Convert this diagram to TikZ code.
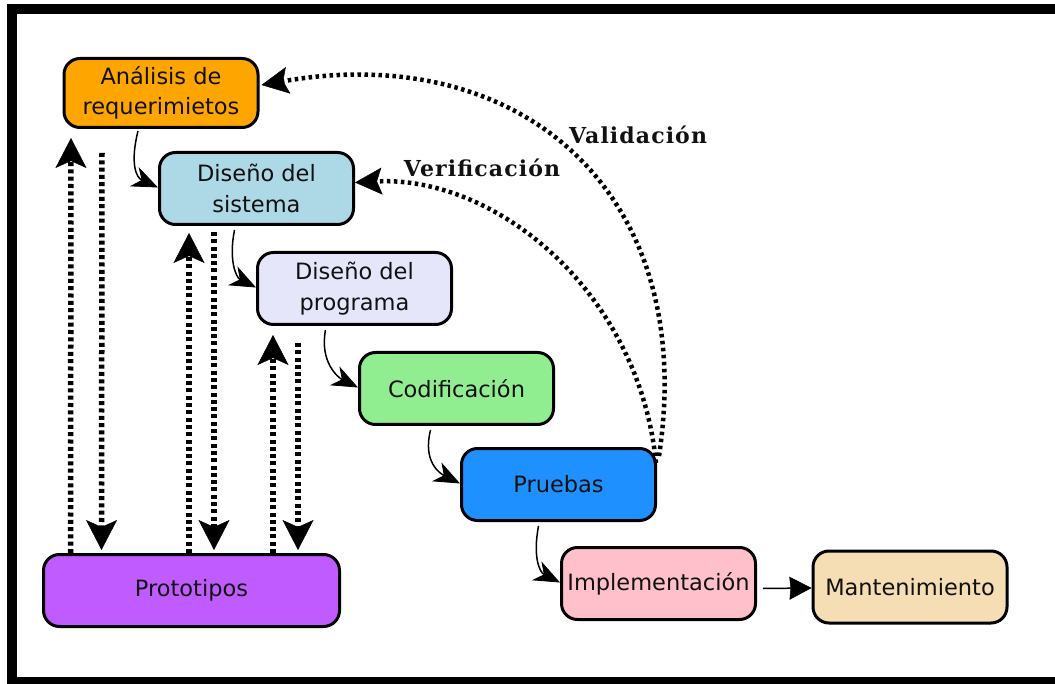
\documentclass[tikz,border=0pt]{standalone}
\usepackage{fontspec}
\setmainfont{DejaVu Sans}
\newfontfamily\notefont[LetterSpace=5]{DejaVu Serif}
\usetikzlibrary{arrows.meta}

\definecolor{cAna}{HTML}{FFA500}
\definecolor{cSis}{HTML}{ADD8E6}
\definecolor{cProg}{HTML}{E6E6FA}
\definecolor{cCod}{HTML}{90EE90}
\definecolor{cPru}{HTML}{1E90FF}
\definecolor{cImp}{HTML}{FFC0CB}
\definecolor{cMan}{HTML}{F5DEB3}
\definecolor{cPro}{HTML}{BF5BFF}
\definecolor{ink}{HTML}{111111}

\begin{document}
\begin{tikzpicture}[x=1pt,y=-1pt,
  phase/.style={draw=black, line width=3pt, rounded corners=16pt,
    minimum width=194pt, minimum height=72pt, inner sep=2pt,
    align=center, text=ink, font=\fontsize{22.5}{30.5}\selectfont},
  flow/.style={line width=1.5pt, -{Stealth[length=26pt,width=21pt,inset=8pt,line width=0.8pt]}},
  proto/.style={line width=5.5pt, dash pattern=on 4pt off 3.3pt,
    -{Stealth[length=30pt,width=31pt,inset=7pt,line width=0.5pt]}},
  loopback/.style={line width=4.5pt, dash pattern=on 3.5pt off 3.5pt,
    -{Stealth[length=27pt,width=27pt,inset=5pt,line width=0.5pt]}},
  note/.style={font=\notefont\bfseries\fontsize{22}{26}\selectfont, text=ink}
]
\useasboundingbox (0,0) rectangle (1055,684);
\clip (0,0) rectangle (1055,684);

% outer frame
\draw[line width=10pt] (12,9) rectangle (1075,682);

% phases of the process
\node[phase, fill=cAna, minimum height=69pt] (ana) at (161,93) {Análisis de\\requerimietos};
\node[phase, fill=cSis]  (sis)  at (256.5,188.5) {Diseño del\\sistema};
\node[phase, fill=cProg] (prog) at (354.5,288.5) {Diseño del\\programa};
\node[phase, fill=cCod]  (cod)  at (456.5,388.5) {Codificación};
\node[phase, fill=cPru]  (pru)  at (558.5,484.5) {Pruebas};
\node[phase, fill=cImp]  (imp)  at (658.5,583.5) {Implementación};
\node[phase, fill=cMan]  (man)  at (910,587)     {Mantenimiento};
\node[phase, fill=cPro, minimum width=296pt] (pro) at (191.5,590.5) {Prototipos};

% cascade between phases
\draw[flow] ([xshift=-23pt,yshift=-2pt]ana.south) .. controls +(-8,32) and +(-22,-10) .. ([yshift=1pt]sis.west);
\draw[flow] ([xshift=-22pt,yshift=-4pt]sis.south) .. controls +(-6,30) and +(-20,-10) .. ([yshift=1pt]prog.west);
\draw[flow] ([xshift=-29pt,yshift=-4pt]prog.south) .. controls +(-6,32) and +(-20,-10) .. ([yshift=1pt]cod.west);
\draw[flow] ([xshift=-26pt,yshift=-4pt]cod.south) .. controls +(-8,32) and +(-20,-10) .. ([yshift=1pt]pru.west);
\draw[flow] ([xshift=-20pt,yshift=-4pt]pru.south) .. controls +(-6,32) and +(-20,-10) .. ([yshift=1pt]imp.west);
\draw[line width=1.5pt, -{Stealth[length=22pt,width=23pt,inset=1pt,line width=0.5pt]}]
  ([xshift=6pt,yshift=-5pt]imp.east) -- ([yshift=-1pt]man.west);

% prototype feedback loops
\draw[proto] ([xshift=-121pt]pro.north) -- ([xshift=-90pt,yshift=-9pt]ana.south);
\draw[proto] ([xshift=-59pt,yshift=-24pt]ana.south) -- ([xshift=-90pt,yshift=3pt]pro.north);
\draw[proto] ([xshift=-2.5pt]pro.north) -- ([xshift=-67.5pt,yshift=-7pt]sis.south);
\draw[proto] ([xshift=-42.5pt,yshift=-6pt]sis.south) -- ([xshift=22.5pt,yshift=3pt]pro.north);
\draw[proto] ([xshift=81.5pt]pro.north) -- ([xshift=-81.5pt,yshift=-9pt]prog.south);
\draw[proto] ([xshift=-56.5pt,yshift=-17pt]prog.south) -- ([xshift=106.5pt,yshift=3pt]pro.north);

% verification and validation
\coordinate (vstart) at ([xshift=-1pt,yshift=-16pt]pru.north east);
\coordinate (wstart) at ([xshift=2pt,yshift=-9pt]pru.north east);
\draw[loopback] (vstart) .. controls +(-17,-172) and +(140,-7) .. ([yshift=6pt]sis.east);
\draw[loopback] (wstart) .. controls +(40,-265) and +(258,-45) .. ([xshift=2pt,yshift=8pt]ana.east);

\node[note] (ver) at (482,168) {Verificación};
\node[note] (val) at (638,135) {Validación};
\end{tikzpicture}
\end{document}
